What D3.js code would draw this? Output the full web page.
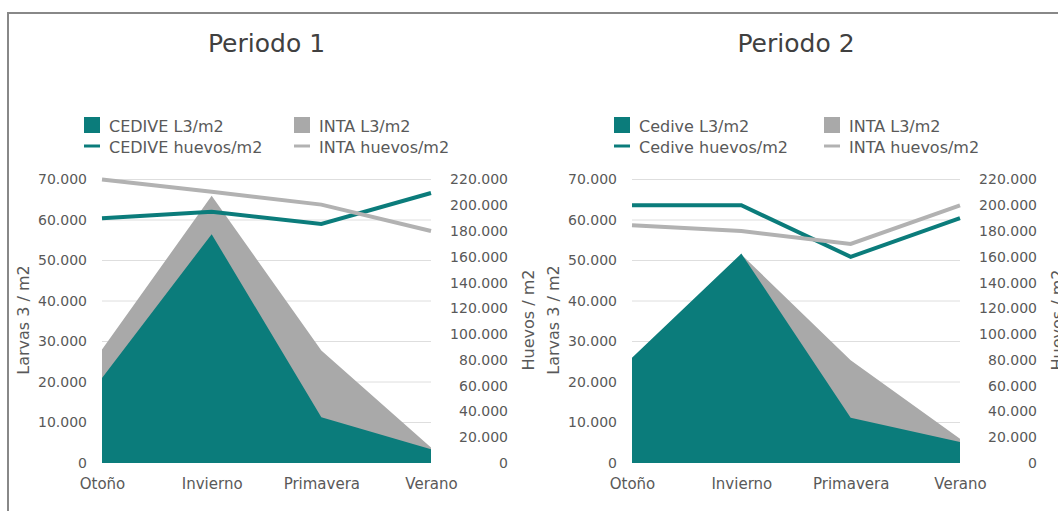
<!DOCTYPE html>
<html>
<head>
<meta charset="utf-8">
<script src="https://cdn.jsdelivr.net/npm/d3@7"></script>
<style>
  body { margin: 0; background: #fff; }
  svg { display: block; font-family: "DejaVu Sans", sans-serif; }
</style>
</head>
<body>
<svg id="chart" width="1058" height="511"></svg>
<script>
(function(){
	'use strict';

	// data
	var seasons = ["Otoño", "Invierno", "Primavera", "Verano"];
	var larvaTicks = [0, 10000, 20000, 30000, 40000, 50000, 60000, 70000];
	var huevoTicks = [0, 20000, 40000, 60000, 80000, 100000, 120000, 140000, 160000, 180000, 200000, 220000];

	var p1CediveL3 = [21000, 56500, 11300, 3400];
	var p1IntaL3 = [28000, 66000, 27800, 3800];
	var p1CediveHuevos = [190000, 195000, 185500, 209500];
	var p1IntaHuevos = [220000, 210500, 200500, 180000];

	var p2CediveL3 = [26000, 51700, 11200, 5200];
	var p2IntaL3 = [25000, 51500, 25400, 6000];
	var p2CediveHuevos = [200000, 200000, 160000, 190000];
	var p2IntaHuevos = [184500, 180000, 170000, 200000];

	var p1Legend = ["CEDIVE L3/m2", "INTA L3/m2", "CEDIVE huevos/m2", "INTA huevos/m2"];
	var p2Legend = ["Cedive L3/m2", "INTA L3/m2", "Cedive huevos/m2", "INTA huevos/m2"];

	var teal = "#0b7c7b";
	var greyArea = "#a9a9a9";
	var greyLine = "#b2b2b2";
	var textColor = "#595959";

	var fmt = d3.formatLocale({ decimal: ",", thousands: ".", grouping: [3], currency: ["", ""] }).format(",d");

	var svg = d3.select('#chart');

	// frame
	svg.append('path')
		.attr('d', 'M8,511 V13 H1058')
		.attr('fill', 'none')
		.attr('stroke', '#888')
		.attr('stroke-width', 2);

	drawPanel({ title: "Periodo 1", x0: 102, x1: 431, legend: p1Legend,
		cediveL3: p1CediveL3, intaL3: p1IntaL3, cediveH: p1CediveHuevos, intaH: p1IntaHuevos });
	drawPanel({ title: "Periodo 2", x0: 632, x1: 960, legend: p2Legend,
		cediveL3: p2CediveL3, intaL3: p2IntaL3, cediveH: p2CediveHuevos, intaH: p2IntaHuevos });

	function drawPanel(cfg){
		var g = svg.append('g');
		var x = d3.scalePoint().domain(seasons).range([cfg.x0, cfg.x1]);
		var yL = d3.scaleLinear().domain([0, 70000]).range([463, 179.5]);
		var yR = d3.scaleLinear().domain([0, 220000]).range([463, 179.5]);

		// gridlines
		g.selectAll('.grid').data(larvaTicks.slice(1)).enter().append('line')
			.attr('x1', cfg.x0).attr('x2', cfg.x1)
			.attr('y1', function(d){ return yL(d); })
			.attr('y2', function(d){ return yL(d); })
			.attr('stroke', '#dedede').attr('stroke-width', 1);

		// areas
		var area = function(vals){
			return d3.area()
				.x(function(d, i){ return x(seasons[i]); })
				.y0(yL(0))
				.y1(function(d){ return yL(d); })(vals);
		};
		g.append('path').attr('d', area(cfg.intaL3)).attr('fill', greyArea);
		g.append('path').attr('d', area(cfg.cediveL3)).attr('fill', teal);

		// lines
		var line = d3.line()
			.x(function(d, i){ return x(seasons[i]); })
			.y(function(d){ return yR(d); });
		g.append('path').attr('d', line(cfg.cediveH))
			.attr('fill', 'none').attr('stroke', teal).attr('stroke-width', 4);
		g.append('path').attr('d', line(cfg.intaH))
			.attr('fill', 'none').attr('stroke', greyLine).attr('stroke-width', 4);

		// axes
		var left = g.append('g').attr('transform', 'translate(' + (cfg.x0 - 15) + ',0)')
			.call(d3.axisLeft(yL).tickValues(larvaTicks).tickFormat(fmt).tickSize(0).tickPadding(0));
		var right = g.append('g').attr('transform', 'translate(' + (cfg.x1 + 77) + ',0)')
			.call(d3.axisLeft(yR).tickValues(huevoTicks).tickFormat(fmt).tickSize(0).tickPadding(0));
		var bottom = g.append('g').attr('transform', 'translate(0,478)')
			.call(d3.axisBottom(x).tickSize(0).tickPadding(0));
		[left, right, bottom].forEach(function(a){
			a.select('.domain').remove();
			a.selectAll('text')
				.attr('fill', textColor)
				.attr('font-size', a === bottom ? '15px' : '14px')
				.attr('font-family', '"DejaVu Sans", sans-serif');
		});

		// axis titles
		g.append('text')
			.attr('transform', 'translate(' + (cfg.x0 - 73) + ',320) rotate(-90)')
			.attr('text-anchor', 'middle')
			.attr('fill', textColor).attr('font-size', '16px')
			.text("Larvas 3 / m2");
		g.append('text')
			.attr('transform', 'translate(' + (cfg.x1 + 103) + ',320) rotate(-90)')
			.attr('text-anchor', 'middle')
			.attr('fill', textColor).attr('font-size', '16px')
			.text("Huevos / m2");

		// title
		g.append('text')
			.attr('x', (cfg.x0 + cfg.x1) / 2)
			.attr('y', 52)
			.attr('text-anchor', 'middle')
			.attr('fill', '#404040').attr('font-size', '25px')
			.text(cfg.title);

		// legend
		var cols = [cfg.x0 - 18, cfg.x0 + 192];
		var colors = [teal, greyArea, teal, greyLine];
		cfg.legend.forEach(function(label, i){
			var cx = cols[i % 2];
			var row = Math.floor(i / 2);
			if (row === 0) {
				g.append('rect').attr('x', cx).attr('y', 117).attr('width', 16).attr('height', 16)
					.attr('fill', colors[i]);
			} else {
				g.append('line').attr('x1', cx).attr('x2', cx + 16).attr('y1', 146).attr('y2', 146)
					.attr('stroke', colors[i]).attr('stroke-width', 3);
			}
			g.append('text')
				.attr('x', cx + 25)
				.attr('y', row === 0 ? 132 : 153)
				.attr('fill', textColor).attr('font-size', '16px')
				.text(label);
		});
	}

})();
</script>
</body>
</html>
